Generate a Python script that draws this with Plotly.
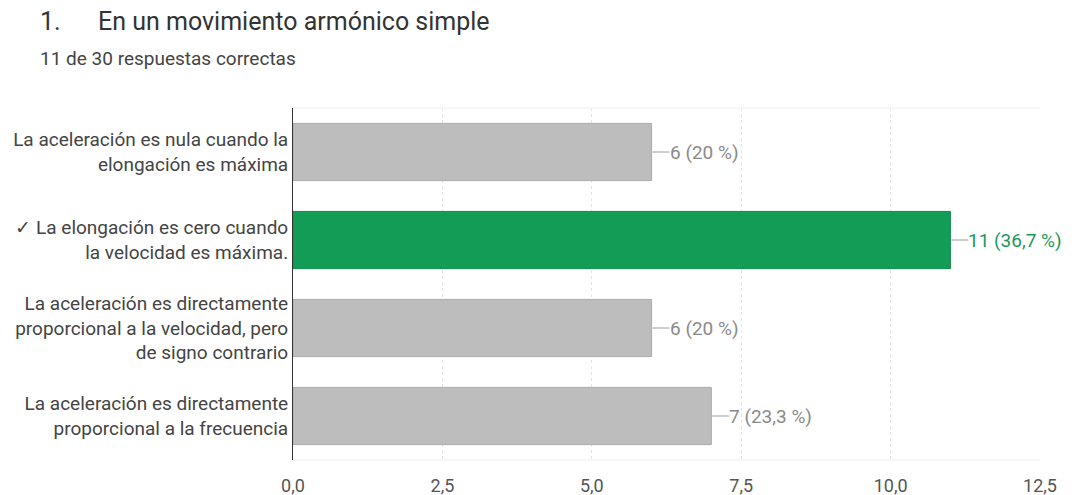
import plotly.graph_objects as go

categories = [
    "La aceleración es nula cuando la<br>elongación es máxima",
    "✓ La elongación es cero cuando<br>la velocidad es máxima.",
    "La aceleración es directamente<br>proporcional a la velocidad, pero<br>de signo contrario",
    "La aceleración es directamente<br>proporcional a la frecuencia",
]
counts = [6, 11, 6, 7]
labels = ["6 (20 %)", "11 (36,7 %)", "6 (20 %)", "7 (23,3 %)"]
correct = [False, True, False, False]
tickvals = [0, 2.5, 5, 7.5, 10, 12.5]
ticktext = ["0,0", "2,5", "5,0", "7,5", "10,0", "12,5"]

GREEN = "#129c56"
GRAY = "#bdbdbd"
bar_colors = [GREEN if c else GRAY for c in correct]
line_colors = ["#0e8a4b" if c else "#aaaaaa" for c in correct]
text_colors = ["#1a9a5a" if c else "#8a8a8a" for c in correct]

fig = go.Figure()
fig.add_trace(go.Bar(
    x=counts, y=categories, orientation="h",
    marker=dict(color=bar_colors, line=dict(color=line_colors, width=1)),
    width=0.65, hoverinfo="skip",
))

for cat, v, lab, tc in zip(categories, counts, labels, text_colors):
    fig.add_shape(type="line", xref="x", yref="y", xsizemode="pixel",
                  xanchor=v, x0=1, x1=18, y0=cat, y1=cat,
                  line=dict(color="#9e9e9e", width=1))
    fig.add_annotation(x=v, y=cat, xref="x", yref="y", text=lab, showarrow=False,
                       xanchor="left", xshift=16, font=dict(size=19, color=tc))

# plot area border lines (top/bottom light)
fig.add_shape(type="line", xref="paper", yref="paper", x0=0, x1=1, y0=1, y1=1,
              line=dict(color="#eeeeee", width=1))
fig.add_shape(type="line", xref="paper", yref="paper", x0=0, x1=1, y0=0, y1=0,
              line=dict(color="#eeeeee", width=1))

fig.add_annotation(xref="paper", yref="paper", x=-0.342, y=1.245, text="1.",
                   showarrow=False, xanchor="left", yanchor="middle",
                   font=dict(size=25, color="#333333"))
fig.add_annotation(xref="paper", yref="paper", x=-0.264, y=1.245,
                   text="En un movimiento armónico simple",
                   showarrow=False, xanchor="left", yanchor="middle",
                   font=dict(size=25, color="#333333"))
fig.add_annotation(xref="paper", yref="paper", x=-0.342, y=1.14,
                   text="11 de 30 respuestas correctas",
                   showarrow=False, xanchor="left", yanchor="middle",
                   font=dict(size=19, color="#444444"))

fig.update_layout(
    width=1072, height=495,
    margin=dict(l=293, r=32, t=108, b=35),
    paper_bgcolor="white", plot_bgcolor="white",
    font=dict(family="Roboto", color="#444444"),
    showlegend=False,
    bargap=0.35,
    xaxis=dict(range=[0, 12.5], tickvals=tickvals, ticktext=ticktext,
               showgrid=True, gridcolor="#e3e3e3", griddash="dot",
               zeroline=False, showline=False, automargin=False,
               tickfont=dict(size=18, color="#555555"), ticklabelstandoff=13),
    yaxis=dict(autorange="reversed", showline=True, linecolor="#333333",
               linewidth=1, showgrid=False, ticks="", automargin=False,
               tickfont=dict(size=19, color="#444444")),
)

fig.write_html("out.html")
